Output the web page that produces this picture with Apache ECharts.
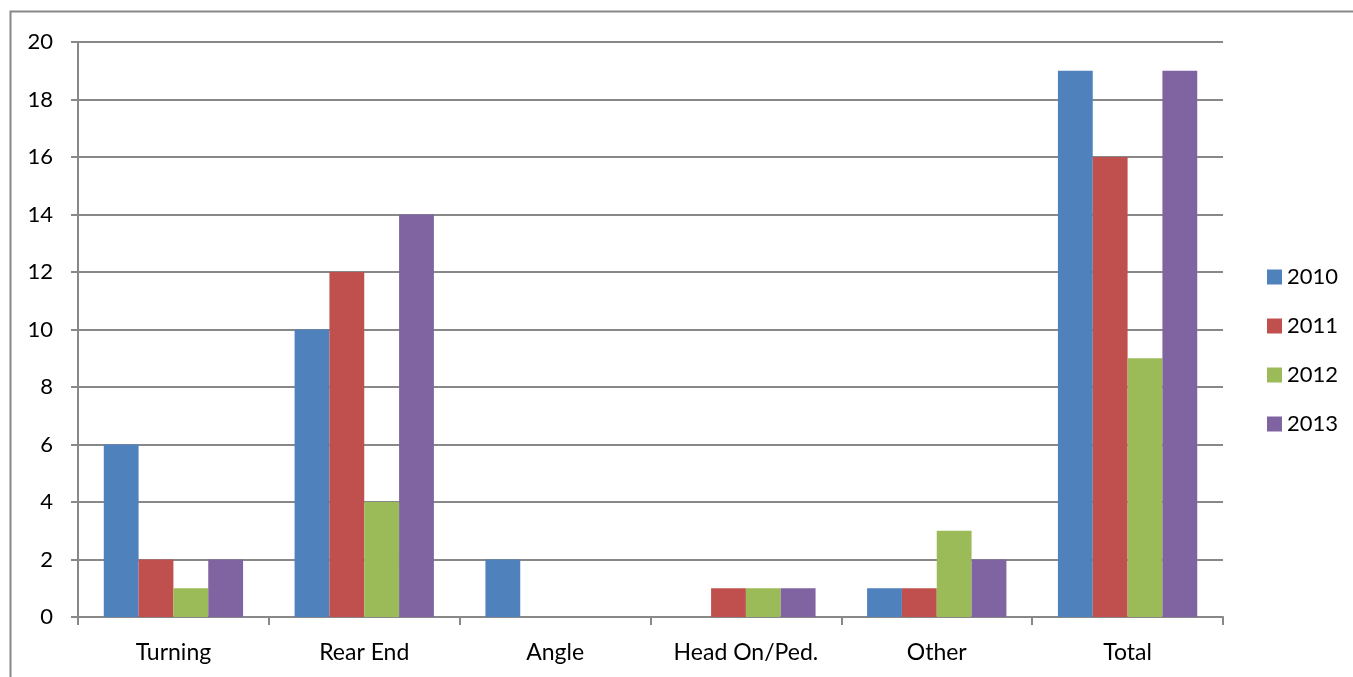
<!DOCTYPE html>
<html><head><meta charset="utf-8">
<script src="https://cdn.jsdelivr.net/npm/echarts@6/dist/echarts.min.js"></script>
<style>html,body{margin:0;padding:0;background:#fff}#c{width:1353px;height:677px}</style>
</head><body><div id="c"></div>
<script>
const categories = ['Turning', 'Rear End', 'Angle', 'Head On/Ped.', 'Other', 'Total'];
const seriesNames = ['2010', '2011', '2012', '2013'];
const v2010 = [6, 10, 2, 0, 1, 19];
const v2011 = [2, 12, 0, 1, 1, 16];
const v2012 = [1, 4, 0, 1, 3, 9];
const v2013 = [2, 14, 0, 1, 2, 19];
const colors = ['#4f81bd', '#c0504d', '#9bbb59', '#8064a2'];
const allValues = [v2010, v2011, v2012, v2013];

const chart = echarts.init(document.getElementById('c'));
const font = 'Lato, "Open Sans", sans-serif';
chart.setOption({
  animation: false,
  graphic: [{type: 'rect', shape: {x: 10.5, y: 11.5, width: 1400, height: 700}, style: {fill: 'none', stroke: '#888', lineWidth: 2}, silent: true}],
  grid: {left: 78, right: 130, top: 42, bottom: 60},
  legend: {
    orient: 'vertical', left: 1262, top: 261, itemWidth: 15, itemHeight: 15, itemGap: 27,
    icon: 'rect',
    textStyle: {fontFamily: font, fontSize: 22, color: '#000'},
    data: seriesNames
  },
  xAxis: {
    type: 'category', data: categories,
    axisLine: {lineStyle: {color: '#888', width: 2}},
    axisTick: {show: true, length: 8, lineStyle: {color: '#888', width: 2}},
    axisLabel: {fontFamily: font, fontSize: 23, color: '#000', margin: 24}
  },
  yAxis: {
    type: 'value', min: 0, max: 20, interval: 2,
    axisLine: {show: true, lineStyle: {color: '#888', width: 2}},
    axisTick: {show: true, length: 7, lineStyle: {color: '#888', width: 2}},
    axisLabel: {fontFamily: font, fontSize: 22, color: '#000', margin: 25},
    splitLine: {lineStyle: {color: '#888', width: 2}}
  },
  series: seriesNames.map((n, i) => ({
    name: n, type: 'bar', data: allValues[i], barGap: '0%', barCategoryGap: '27%',
    itemStyle: {color: colors[i]}
  }))
});
</script></body></html>
